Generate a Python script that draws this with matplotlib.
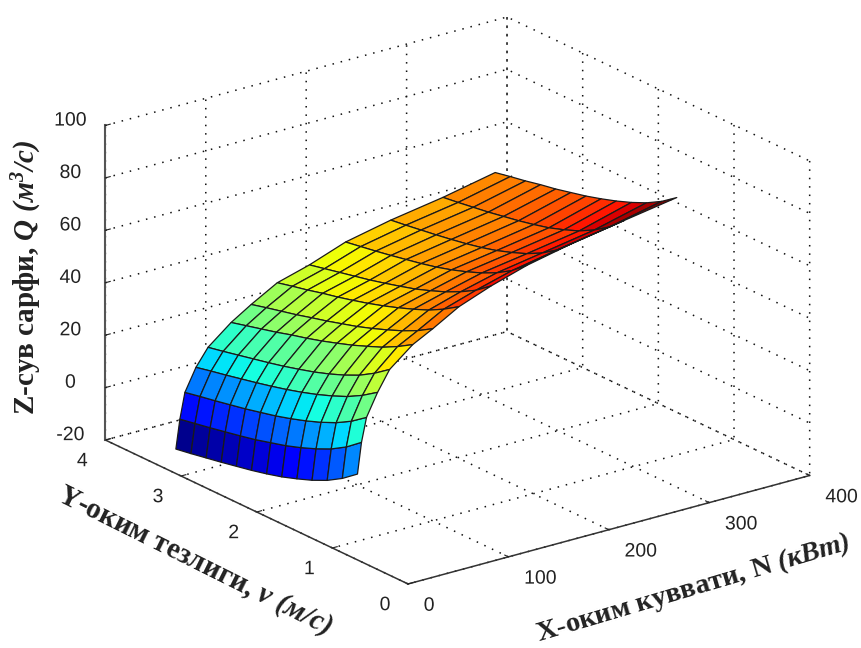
import numpy as np
import matplotlib
matplotlib.use('Agg')
import matplotlib.pyplot as plt
from matplotlib import patheffects

plt.rcParams['font.family'] = 'Liberation Sans'
plt.rcParams['axes.unicode_minus'] = False
plt.rcParams['mathtext.fontset'] = 'custom'
plt.rcParams['mathtext.bf'] = 'Liberation Serif:bold'
plt.rcParams['mathtext.bfit'] = 'Liberation Serif:italic:bold'
plt.rcParams['mathtext.rm'] = 'Liberation Serif:bold'
plt.rcParams['mathtext.it'] = 'Liberation Serif:italic:bold'
plt.rcParams['grid.linestyle'] = (0, (1, 4.5))
plt.rcParams['grid.color'] = '#111111'
plt.rcParams['grid.linewidth'] = 1.1

power = [25, 29, 34, 45, 57, 80, 100, 126, 158, 194, 239, 291, 343]
speed = [1.0, 1.2, 1.4, 1.6, 1.8, 2.0, 2.2, 2.4, 2.6, 2.8, 3.0, 3.2, 3.4]
flow = [
    [5.6, 1.2, -2.3, -5.0, -7.2, -9.2, -10.8, -12.2, -13.4, -14.6, -15.7, -16.8, -17.8],
    [17.3, 12.8, 9.3, 6.6, 4.3, 2.3, 0.7, -0.9, -2.2, -3.4, -4.6, -5.7, -6.8],
    [26.3, 22.1, 18.8, 16.2, 14.0, 12.1, 10.4, 9.0, 7.6, 6.4, 5.2, 4.1, 2.9],
    [34.7, 30.8, 27.6, 25.1, 22.9, 21.0, 19.3, 17.8, 16.4, 15.1, 13.8, 12.6, 11.3],
    [42.2, 38.0, 34.5, 31.8, 29.5, 27.5, 25.8, 24.2, 22.8, 21.5, 20.2, 18.9, 17.7],
    [49.3, 45.8, 42.8, 40.4, 38.1, 36.1, 34.2, 32.5, 31.0, 29.3, 27.8, 26.3, 24.8],
    [53.3, 49.8, 47.0, 44.6, 42.4, 40.4, 38.7, 37.0, 35.5, 33.9, 32.5, 31.1, 29.6],
    [59.0, 55.3, 52.2, 49.8, 47.6, 45.6, 43.8, 42.2, 40.7, 39.4, 37.9, 36.6, 35.2],
    [63.6, 59.2, 55.9, 53.1, 50.8, 48.7, 47.0, 45.4, 43.9, 42.6, 41.3, 40.0, 38.7],
    [67.8, 63.0, 59.4, 56.6, 54.3, 52.3, 50.6, 49.2, 48.0, 46.8, 45.7, 44.7, 43.7],
    [71.5, 66.2, 62.3, 59.3, 57.0, 55.0, 53.4, 52.1, 51.0, 50.0, 49.1, 48.2, 47.4],
    [74.9, 69.6, 65.7, 62.6, 60.3, 58.3, 56.8, 55.5, 54.4, 53.3, 52.4, 51.5, 50.7],
    [78.2, 74.0, 70.7, 68.1, 65.9, 64.0, 62.3, 60.9, 59.5, 58.4, 57.1, 56.0, 54.8],
]
x_ticks = [0, 100, 200, 300, 400]
y_ticks = [0, 1, 2, 3, 4]
z_ticks = [-20, 0, 20, 40, 60, 80, 100]

W, H = 861, 648
fig = plt.figure(figsize=(W / 100, H / 100), dpi=100)
S = 764
ax = fig.add_axes([65.2 / W, -44.8 / H, S / W, S / H], projection='3d', facecolor='none')
ax.set_proj_type('ortho')
ax.view_init(elev=21, azim=-127)
ax.set_box_aspect((503, 503, 337))

X, Y = np.meshgrid(power, speed, indexing='ij')
Z = np.array(flow)
# flat shading like surf: each cell takes the colour of its first corner
colors = plt.get_cmap('jet')(plt.Normalize(-18, 73)(Z))
ax.plot_surface(X, Y, Z, rstride=1, cstride=1, facecolors=colors, shade=False,
                edgecolor='#1a1a1a', linewidth=0.9, antialiased=True)

ax.set_xlim(0, 400)
ax.set_ylim(0, 4)
ax.set_zlim(-20, 100)
ax.set_xticks(x_ticks)
ax.set_yticks(y_ticks)
ax.set_zticks(z_ticks)
ax.tick_params(labelsize=14, colors='#222222')
ax.tick_params(axis='x', pad=5)
ax.tick_params(axis='y', pad=7)
ax.tick_params(axis='z', pad=7)
# 3d axes overwrite tick label positions at draw time, so nudge them this way
plt.setp(ax.get_xticklabels(), ha='left', va='bottom',
         path_effects=[patheffects.Stroke(offset=(1.4, -7.2), linewidth=0)])
plt.setp(ax.get_yticklabels(), va='bottom',
         path_effects=[patheffects.Stroke(offset=(-1.4, -5.8), linewidth=0)])
plt.setp(ax.get_zticklabels(), va='bottom',
         path_effects=[patheffects.Stroke(offset=(1.4, -4.3), linewidth=0)])

for axis in (ax.xaxis, ax.yaxis, ax.zaxis):
    axis.set_pane_color((1, 1, 1, 0))
    axis.pane.set_edgecolor((1, 1, 1, 0))
    axis.line.set_color('#333333')
    axis.line.set_linewidth(1.1)
    axis._axinfo['tick']['inward_factor'] = 0.0
    axis._axinfo['tick']['outward_factor'] = 0.15
ax.zaxis.line.set_color('#555555')
ax.zaxis.line.set_linewidth(1.5)

serif = dict(family='Liberation Serif', fontweight='bold', color='#222222', ha='center', va='center', rotation_mode='anchor')
fig.text(27 / W, 1 - 277 / H, r'Z-сув сарфи, $\mathbfit{Q\ (м^{3}/с)}$', fontsize=21, rotation=90, **serif)
fig.text(195 / W, 1 - 561 / H, r'Y-оким тезлиги, $\mathbfit{v\ (м/с)}$', fontsize=21, rotation=-26.5, **serif)
fig.text(693 / W, 1 - 588 / H, r'X-оким куввати, N $\mathbfit{(кВт)}$', fontsize=20.5, rotation=16.5, **serif)

fig.savefig('out.png', dpi=100)
